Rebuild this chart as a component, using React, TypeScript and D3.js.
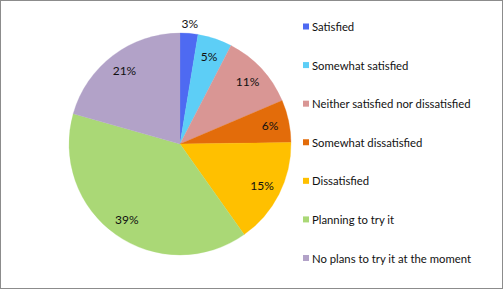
import React from "react";
import * as d3 from "d3";

const categories = [
  "Satisfied",
  "Somewhat satisfied",
  "Neither satisfied nor dissatisfied",
  "Somewhat dissatisfied",
  "Dissatisfied",
  "Planning to try it",
  "No plans to try it at the moment",
];
const values = [2.6, 5.0, 11.0, 6.2, 15.4, 39.2, 20.6];
const colors = ["#4E6AF2", "#5DCEF6", "#D99694", "#E36C0A", "#FFC000", "#AAD876", "#B2A2C8"];

const W = 503;
const H = 289;
const cx = 180;
const cy = 144;
const R = 111;
const FONT = "Lato, 'Liberation Sans', sans-serif";

export default function App() {
  const pie = d3
    .pie<number>()
    .sort(null)
    .startAngle(0)
    .endAngle(2 * Math.PI)
    .value((d) => d);
  const arcs = pie(values);
  const total = d3.sum(values);
  const arcGen = d3.arc<d3.PieArcDatum<number>>().innerRadius(0).outerRadius(R);
  const labelArc = d3.arc<d3.PieArcDatum<number>>().innerRadius(R * 0.83).outerRadius(R * 0.83);
  const outerArc = d3.arc<d3.PieArcDatum<number>>().innerRadius(R + 10).outerRadius(R + 10);

  const legendY = d3.scalePoint<number>().domain(d3.range(categories.length)).range([26.5, 258]);

  return (
    <svg
      width={W}
      height={H}
      style={{ position: "absolute", left: 0, top: 0, display: "block" }}
    >
      <rect x={0} y={0} width={W} height={H} fill="#fff" />
      <rect x={0.5} y={0.5} width={W - 1} height={H - 1} fill="none" stroke="#8c8c8c" strokeWidth={1} />
      <g transform={`translate(${cx},${cy})`}>
        {arcs.map((a, i) => (
          <path key={i} d={arcGen(a) || ""} fill={colors[i]} stroke={colors[i]} strokeWidth={0.3} />
        ))}
        {arcs.map((a, i) => {
          const small = values[i] / total < 0.04;
          const [x, y] = small ? outerArc.centroid(a) : labelArc.centroid(a);
          return (
            <text
              key={i}
              x={x}
              y={y}
              textAnchor="middle"
              dominantBaseline="central"
              fontFamily={FONT}
              fontSize={12}
              fill="#111"
            >
              {`${Math.round((values[i] / total) * 100)}%`}
            </text>
          );
        })}
      </g>
      <g>
        {categories.map((c, i) => (
          <g key={c} transform={`translate(303,${legendY(i)})`}>
            <rect x={0} y={-3} width={6} height={6} fill={colors[i]} />
            <text x={9} y={0} dominantBaseline="central" fontFamily={FONT} fontSize={11.3} fill="#111">
              {c}
            </text>
          </g>
        ))}
      </g>
    </svg>
  );
}
